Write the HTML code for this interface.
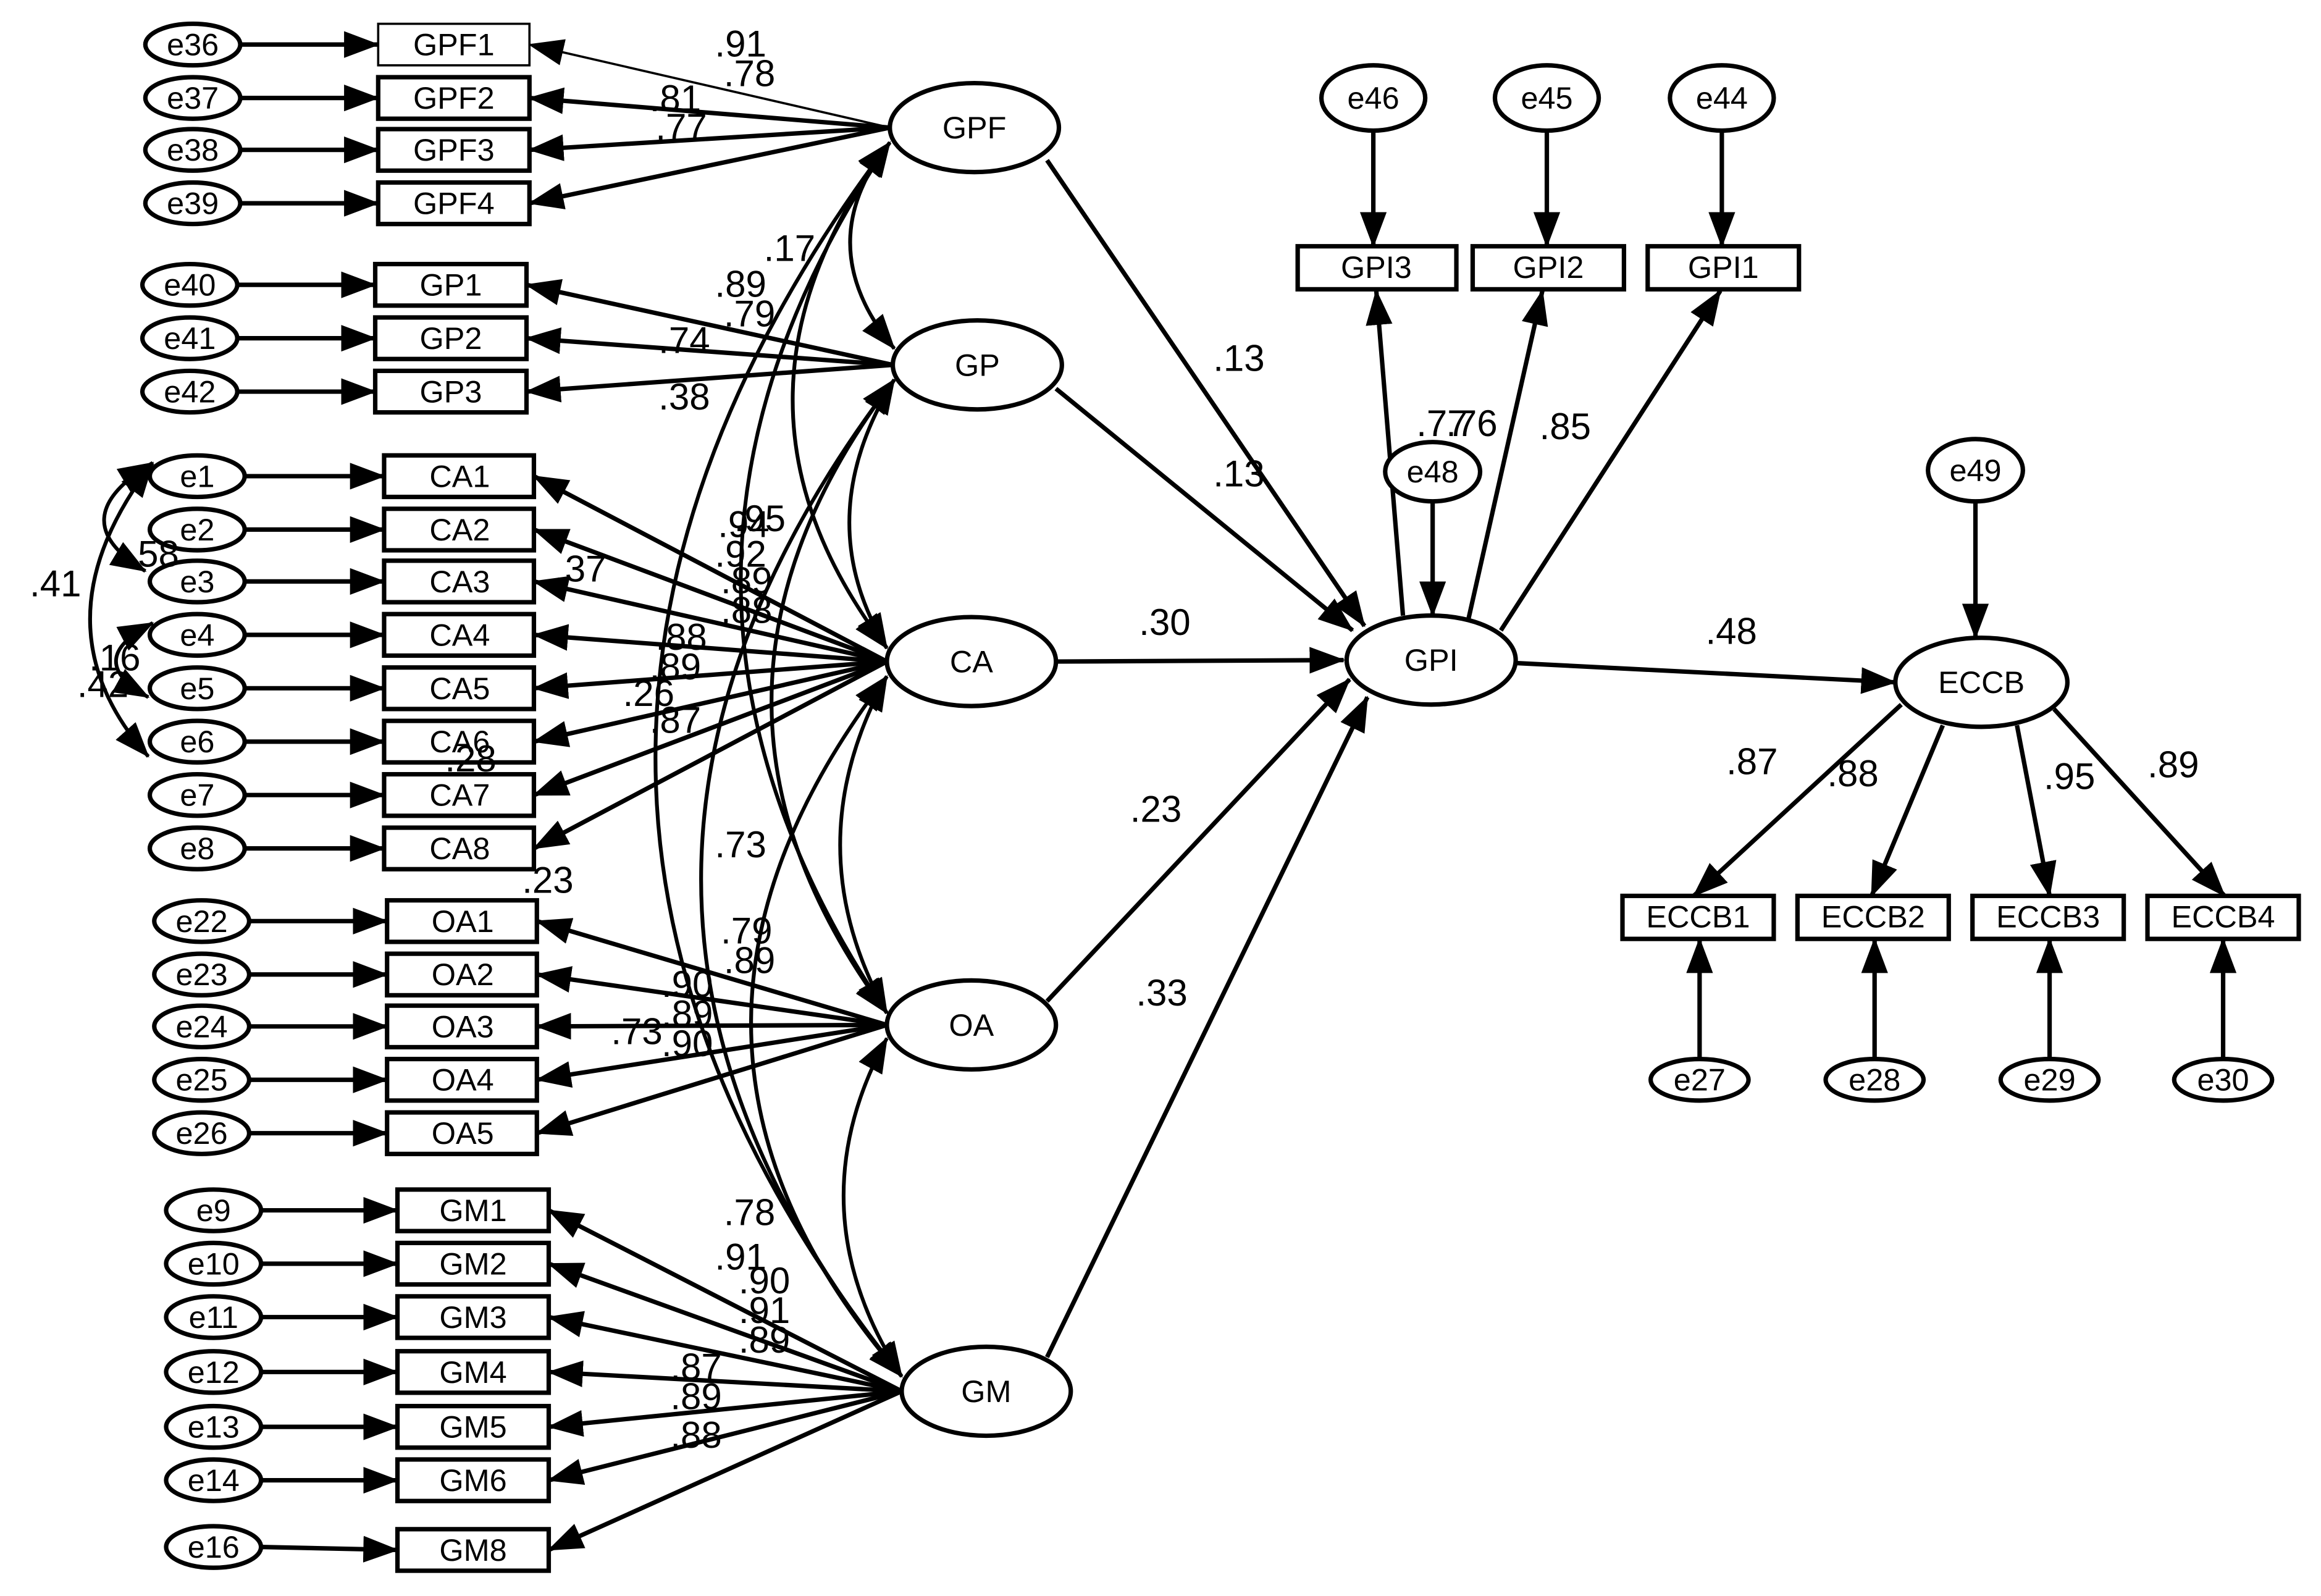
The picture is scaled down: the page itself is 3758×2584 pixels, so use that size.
<!DOCTYPE html>
<html><head><meta charset="utf-8"><style>
html,body{margin:0;padding:0;background:#fff;}
svg{display:block;}
text{font-family:"Liberation Sans",Arial,sans-serif;fill:#000;}
.n{font-size:21px;text-anchor:middle;dominant-baseline:central;}
.l{font-size:25px;}
</style></head><body>
<svg width="3758" height="2584" viewBox="0 0 1565 1076" xmlns="http://www.w3.org/2000/svg">
<defs>
<marker id="a" markerUnits="userSpaceOnUse" markerWidth="24" markerHeight="18" refX="23" refY="9" orient="auto"><path d="M0,0 L24,9 L0,18 z" fill="#000"/></marker>
<marker id="s" markerUnits="userSpaceOnUse" markerWidth="24" markerHeight="18" refX="1" refY="9" orient="auto"><path d="M24,0 L0,9 L24,18 z" fill="#000"/></marker>
</defs>
<rect width="1565" height="1076" fill="#fff"/>
<g stroke="#000" stroke-width="3" fill="none">
<!-- latent -> indicator loadings -->
<g marker-end="url(#a)">
<line x1="600" y1="86" x2="357" y2="30" stroke-width="1.5"/>
<line x1="600" y1="86" x2="357" y2="66"/>
<line x1="600" y1="86" x2="357" y2="101"/>
<line x1="600" y1="86" x2="357" y2="137"/>
<line x1="602" y1="246" x2="355" y2="192"/>
<line x1="602" y1="246" x2="355" y2="228"/>
<line x1="602" y1="246" x2="355" y2="264"/>
<line x1="598" y1="446" x2="360" y2="321"/>
<line x1="598" y1="446" x2="360" y2="357"/>
<line x1="598" y1="446" x2="360" y2="392"/>
<line x1="598" y1="446" x2="360" y2="428"/>
<line x1="598" y1="446" x2="360" y2="464"/>
<line x1="598" y1="446" x2="360" y2="500"/>
<line x1="598" y1="446" x2="360" y2="536"/>
<line x1="598" y1="446" x2="360" y2="572"/>
<line x1="598" y1="691" x2="362" y2="621"/>
<line x1="598" y1="691" x2="362" y2="657"/>
<line x1="598" y1="691" x2="362" y2="692"/>
<line x1="598" y1="691" x2="362" y2="728"/>
<line x1="598" y1="691" x2="362" y2="764"/>
<line x1="608" y1="938" x2="370" y2="816"/>
<line x1="608" y1="938" x2="370" y2="852"/>
<line x1="608" y1="938" x2="370" y2="888"/>
<line x1="608" y1="938" x2="370" y2="925"/>
<line x1="608" y1="938" x2="370" y2="962"/>
<line x1="608" y1="938" x2="370" y2="998"/>
<line x1="608" y1="938" x2="370" y2="1045"/>
<!-- error -> indicator -->
<line x1="162" y1="30" x2="255" y2="30"/>
<line x1="162" y1="66" x2="255" y2="66"/>
<line x1="162" y1="101" x2="255" y2="101"/>
<line x1="162" y1="137" x2="255" y2="137"/>
<line x1="160" y1="192" x2="253" y2="192"/>
<line x1="160" y1="228" x2="253" y2="228"/>
<line x1="160" y1="264" x2="253" y2="264"/>
<line x1="165" y1="321" x2="259" y2="321"/>
<line x1="165" y1="357" x2="259" y2="357"/>
<line x1="165" y1="392" x2="259" y2="392"/>
<line x1="165" y1="428" x2="259" y2="428"/>
<line x1="165" y1="464" x2="259" y2="464"/>
<line x1="165" y1="500" x2="259" y2="500"/>
<line x1="165" y1="536" x2="259" y2="536"/>
<line x1="165" y1="572" x2="259" y2="572"/>
<line x1="168" y1="621" x2="261" y2="621"/>
<line x1="168" y1="657" x2="261" y2="657"/>
<line x1="168" y1="692" x2="261" y2="692"/>
<line x1="168" y1="728" x2="261" y2="728"/>
<line x1="168" y1="764" x2="261" y2="764"/>
<line x1="176" y1="816" x2="268" y2="816"/>
<line x1="176" y1="852" x2="268" y2="852"/>
<line x1="176" y1="888" x2="268" y2="888"/>
<line x1="176" y1="925" x2="268" y2="925"/>
<line x1="176" y1="962" x2="268" y2="962"/>
<line x1="176" y1="998" x2="268" y2="998"/>
<line x1="176" y1="1043" x2="268" y2="1045"/>
<!-- structural -->
<line x1="706" y1="108" x2="920" y2="422"/>
<line x1="712" y1="262" x2="912" y2="425"/>
<line x1="712" y1="446" x2="906" y2="445"/>
<line x1="706" y1="675" x2="910" y2="458"/>
<line x1="706" y1="915" x2="922" y2="470"/>
<line x1="946" y1="415" x2="928" y2="196"/>
<line x1="990" y1="418" x2="1040" y2="196"/>
<line x1="1012" y1="425" x2="1160" y2="196"/>
<line x1="926" y1="88" x2="926" y2="166"/>
<line x1="1043" y1="88" x2="1043" y2="166"/>
<line x1="1161" y1="88" x2="1161" y2="166"/>
<line x1="966" y1="338" x2="966" y2="415"/>
<line x1="1022" y1="447" x2="1278" y2="460"/>
<line x1="1332" y1="339" x2="1332" y2="430"/>
<line x1="1282" y1="475" x2="1142" y2="604"/>
<line x1="1310" y1="489" x2="1262" y2="604"/>
<line x1="1360" y1="489" x2="1382" y2="604"/>
<line x1="1385" y1="478" x2="1500" y2="604"/>
<line x1="1146" y1="714" x2="1146" y2="633"/>
<line x1="1264" y1="714" x2="1264" y2="633"/>
<line x1="1382" y1="714" x2="1382" y2="633"/>
<line x1="1499" y1="714" x2="1499" y2="633"/>
</g>
<!-- covariances -->
<g marker-start="url(#s)" marker-end="url(#a)" stroke-width="2.5">
<path d="M600,96 Q545,165 603,235"/>
<path d="M600,96 Q470,270 598,437"/>
<path d="M600,96 Q400,390 598,683"/>
<path d="M600,96 Q280,520 608,928"/>
<path d="M603,256 Q545,350 598,437"/>
<path d="M603,256 Q440,470 598,683"/>
<path d="M603,256 Q340,600 608,928"/>
<path d="M598,456 Q535,570 598,683"/>
<path d="M598,456 Q410,700 608,928"/>
<path d="M598,700 Q535,815 608,928"/>
<path d="M103,312 Q40,350 98,385"/>
<path d="M103,312 Q20,420 100,510"/>
<path d="M103,420 Q55,445 100,470"/>
</g>
<!-- shapes -->
<g fill="#fff" stroke-width="3">
<rect x="255" y="16" width="102" height="28" stroke-width="1.5"/>
<rect x="255" y="52" width="102" height="28"/>
<rect x="255" y="87" width="102" height="28"/>
<rect x="255" y="123" width="102" height="28"/>
<rect x="253" y="178" width="102" height="28"/>
<rect x="253" y="214" width="102" height="28"/>
<rect x="253" y="250" width="102" height="28"/>
<rect x="259" y="307" width="101" height="28"/>
<rect x="259" y="343" width="101" height="28"/>
<rect x="259" y="378" width="101" height="28"/>
<rect x="259" y="414" width="101" height="28"/>
<rect x="259" y="450" width="101" height="28"/>
<rect x="259" y="486" width="101" height="28"/>
<rect x="259" y="522" width="101" height="28"/>
<rect x="259" y="558" width="101" height="28"/>
<rect x="261" y="607" width="101" height="28"/>
<rect x="261" y="643" width="101" height="28"/>
<rect x="261" y="678" width="101" height="28"/>
<rect x="261" y="714" width="101" height="28"/>
<rect x="261" y="750" width="101" height="28"/>
<rect x="268" y="802" width="102" height="28"/>
<rect x="268" y="838" width="102" height="28"/>
<rect x="268" y="874" width="102" height="28"/>
<rect x="268" y="911" width="102" height="28"/>
<rect x="268" y="948" width="102" height="28"/>
<rect x="268" y="984" width="102" height="28"/>
<rect x="268" y="1031" width="102" height="28"/>
<rect x="875" y="166" width="107" height="29"/>
<rect x="993" y="166" width="102" height="29"/>
<rect x="1111" y="166" width="102" height="29"/>
<rect x="1094" y="604" width="102" height="29"/>
<rect x="1212" y="604" width="102" height="29"/>
<rect x="1330" y="604" width="102" height="29"/>
<rect x="1448" y="604" width="102" height="29"/>
<ellipse cx="130" cy="30" rx="32" ry="14"/><ellipse cx="130" cy="66" rx="32" ry="14"/>
<ellipse cx="130" cy="101" rx="32" ry="14"/><ellipse cx="130" cy="137" rx="32" ry="14"/>
<ellipse cx="128" cy="192" rx="32" ry="14"/><ellipse cx="128" cy="228" rx="32" ry="14"/>
<ellipse cx="128" cy="264" rx="32" ry="14"/>
<ellipse cx="133" cy="321" rx="32" ry="14"/><ellipse cx="133" cy="357" rx="32" ry="14"/>
<ellipse cx="133" cy="392" rx="32" ry="14"/><ellipse cx="133" cy="428" rx="32" ry="14"/>
<ellipse cx="133" cy="464" rx="32" ry="14"/><ellipse cx="133" cy="500" rx="32" ry="14"/>
<ellipse cx="133" cy="536" rx="32" ry="14"/><ellipse cx="133" cy="572" rx="32" ry="14"/>
<ellipse cx="136" cy="621" rx="32" ry="14"/><ellipse cx="136" cy="657" rx="32" ry="14"/>
<ellipse cx="136" cy="692" rx="32" ry="14"/><ellipse cx="136" cy="728" rx="32" ry="14"/>
<ellipse cx="136" cy="764" rx="32" ry="14"/>
<ellipse cx="144" cy="816" rx="32" ry="14"/><ellipse cx="144" cy="852" rx="32" ry="14"/>
<ellipse cx="144" cy="888" rx="32" ry="14"/><ellipse cx="144" cy="925" rx="32" ry="14"/>
<ellipse cx="144" cy="962" rx="32" ry="14"/><ellipse cx="144" cy="998" rx="32" ry="14"/>
<ellipse cx="144" cy="1043" rx="32" ry="14"/>
<ellipse cx="657" cy="86" rx="57" ry="30"/><ellipse cx="659" cy="246" rx="57" ry="30"/>
<ellipse cx="655" cy="446" rx="57" ry="30"/><ellipse cx="655" cy="691" rx="57" ry="30"/>
<ellipse cx="665" cy="938" rx="57" ry="30"/>
<ellipse cx="965" cy="445" rx="57" ry="30"/><ellipse cx="1336" cy="460" rx="58" ry="30"/>
<ellipse cx="926" cy="66" rx="35" ry="22"/><ellipse cx="1043" cy="66" rx="35" ry="22"/>
<ellipse cx="1161" cy="66" rx="35" ry="22"/><ellipse cx="966" cy="318" rx="32" ry="20"/>
<ellipse cx="1332" cy="317" rx="32" ry="21"/>
<ellipse cx="1146" cy="728" rx="33" ry="14"/><ellipse cx="1264" cy="728" rx="33" ry="14"/>
<ellipse cx="1382" cy="728" rx="33" ry="14"/><ellipse cx="1499" cy="728" rx="33" ry="14"/>
</g>
</g>
<g class="n">
<text x="306" y="30">GPF1</text><text x="306" y="66">GPF2</text><text x="306" y="101">GPF3</text><text x="306" y="137">GPF4</text>
<text x="304" y="192">GP1</text><text x="304" y="228">GP2</text><text x="304" y="264">GP3</text>
<text x="310" y="321">CA1</text><text x="310" y="357">CA2</text><text x="310" y="392">CA3</text><text x="310" y="428">CA4</text>
<text x="310" y="464">CA5</text><text x="310" y="500">CA6</text><text x="310" y="536">CA7</text><text x="310" y="572">CA8</text>
<text x="312" y="621">OA1</text><text x="312" y="657">OA2</text><text x="312" y="692">OA3</text><text x="312" y="728">OA4</text><text x="312" y="764">OA5</text>
<text x="319" y="816">GM1</text><text x="319" y="852">GM2</text><text x="319" y="888">GM3</text><text x="319" y="925">GM4</text>
<text x="319" y="962">GM5</text><text x="319" y="998">GM6</text><text x="319" y="1045">GM8</text>
<text x="928" y="180">GPI3</text><text x="1044" y="180">GPI2</text><text x="1162" y="180">GPI1</text>
<text x="1145" y="618">ECCB1</text><text x="1263" y="618">ECCB2</text><text x="1381" y="618">ECCB3</text><text x="1499" y="618">ECCB4</text>
<text x="130" y="30">e36</text><text x="130" y="66">e37</text><text x="130" y="101">e38</text><text x="130" y="137">e39</text>
<text x="128" y="192">e40</text><text x="128" y="228">e41</text><text x="128" y="264">e42</text>
<text x="133" y="321">e1</text><text x="133" y="357">e2</text><text x="133" y="392">e3</text><text x="133" y="428">e4</text>
<text x="133" y="464">e5</text><text x="133" y="500">e6</text><text x="133" y="536">e7</text><text x="133" y="572">e8</text>
<text x="136" y="621">e22</text><text x="136" y="657">e23</text><text x="136" y="692">e24</text><text x="136" y="728">e25</text><text x="136" y="764">e26</text>
<text x="144" y="816">e9</text><text x="144" y="852">e10</text><text x="144" y="888">e11</text><text x="144" y="925">e12</text>
<text x="144" y="962">e13</text><text x="144" y="998">e14</text><text x="144" y="1043">e16</text>
<text x="657" y="86">GPF</text><text x="659" y="246">GP</text><text x="655" y="446">CA</text><text x="655" y="691">OA</text><text x="665" y="938">GM</text>
<text x="965" y="445">GPI</text><text x="1336" y="460">ECCB</text>
<text x="926" y="66">e46</text><text x="1043" y="66">e45</text><text x="1161" y="66">e44</text><text x="966" y="318">e48</text><text x="1332" y="317">e49</text>
<text x="1146" y="728">e27</text><text x="1264" y="728">e28</text><text x="1382" y="728">e29</text><text x="1499" y="728">e30</text>
</g>
<g class="l">
<text x="482" y="38">.91</text><text x="488" y="58">.78</text><text x="438" y="75">.81</text><text x="442" y="94">.77</text>
<text x="515" y="176">.17</text><text x="482" y="200">.89</text><text x="488" y="220">.79</text><text x="444" y="238">.74</text><text x="444" y="276">.38</text>
<text x="495" y="358">.95</text><text x="484" y="362">.94</text><text x="482" y="382">.92</text><text x="486" y="400">.89</text><text x="486" y="420">.88</text>
<text x="374" y="392">.37</text><text x="442" y="438">.88</text><text x="438" y="458">.89</text><text x="420" y="476">.26</text><text x="438" y="494">.87</text>
<text x="300" y="520">.28</text><text x="352" y="602">.23</text><text x="482" y="578">.73</text>
<text x="20" y="402">.41</text><text x="86" y="382">.58</text><text x="52" y="470">.42</text><text x="60" y="452">.16</text>
<text x="486" y="636">.79</text><text x="488" y="656">.89</text><text x="446" y="672">.90</text><text x="446" y="692">.89</text><text x="412" y="704">.73</text><text x="446" y="712">.90</text>
<text x="488" y="826">.78</text><text x="482" y="856">.91</text><text x="498" y="872">.90</text><text x="498" y="892">.91</text><text x="498" y="912">.89</text>
<text x="452" y="930">.87</text><text x="452" y="950">.89</text><text x="452" y="976">.88</text>
<text x="818" y="250">.13</text><text x="818" y="328">.13</text><text x="768" y="428">.30</text><text x="762" y="554">.23</text><text x="766" y="678">.33</text>
<text x="955" y="294">.77</text><text x="975" y="294">.76</text><text x="1038" y="296">.85</text><text x="1150" y="434">.48</text>
<text x="1164" y="522">.87</text><text x="1232" y="530">.88</text><text x="1378" y="532">.95</text><text x="1448" y="524">.89</text>
</g>
</svg>
</body></html>
